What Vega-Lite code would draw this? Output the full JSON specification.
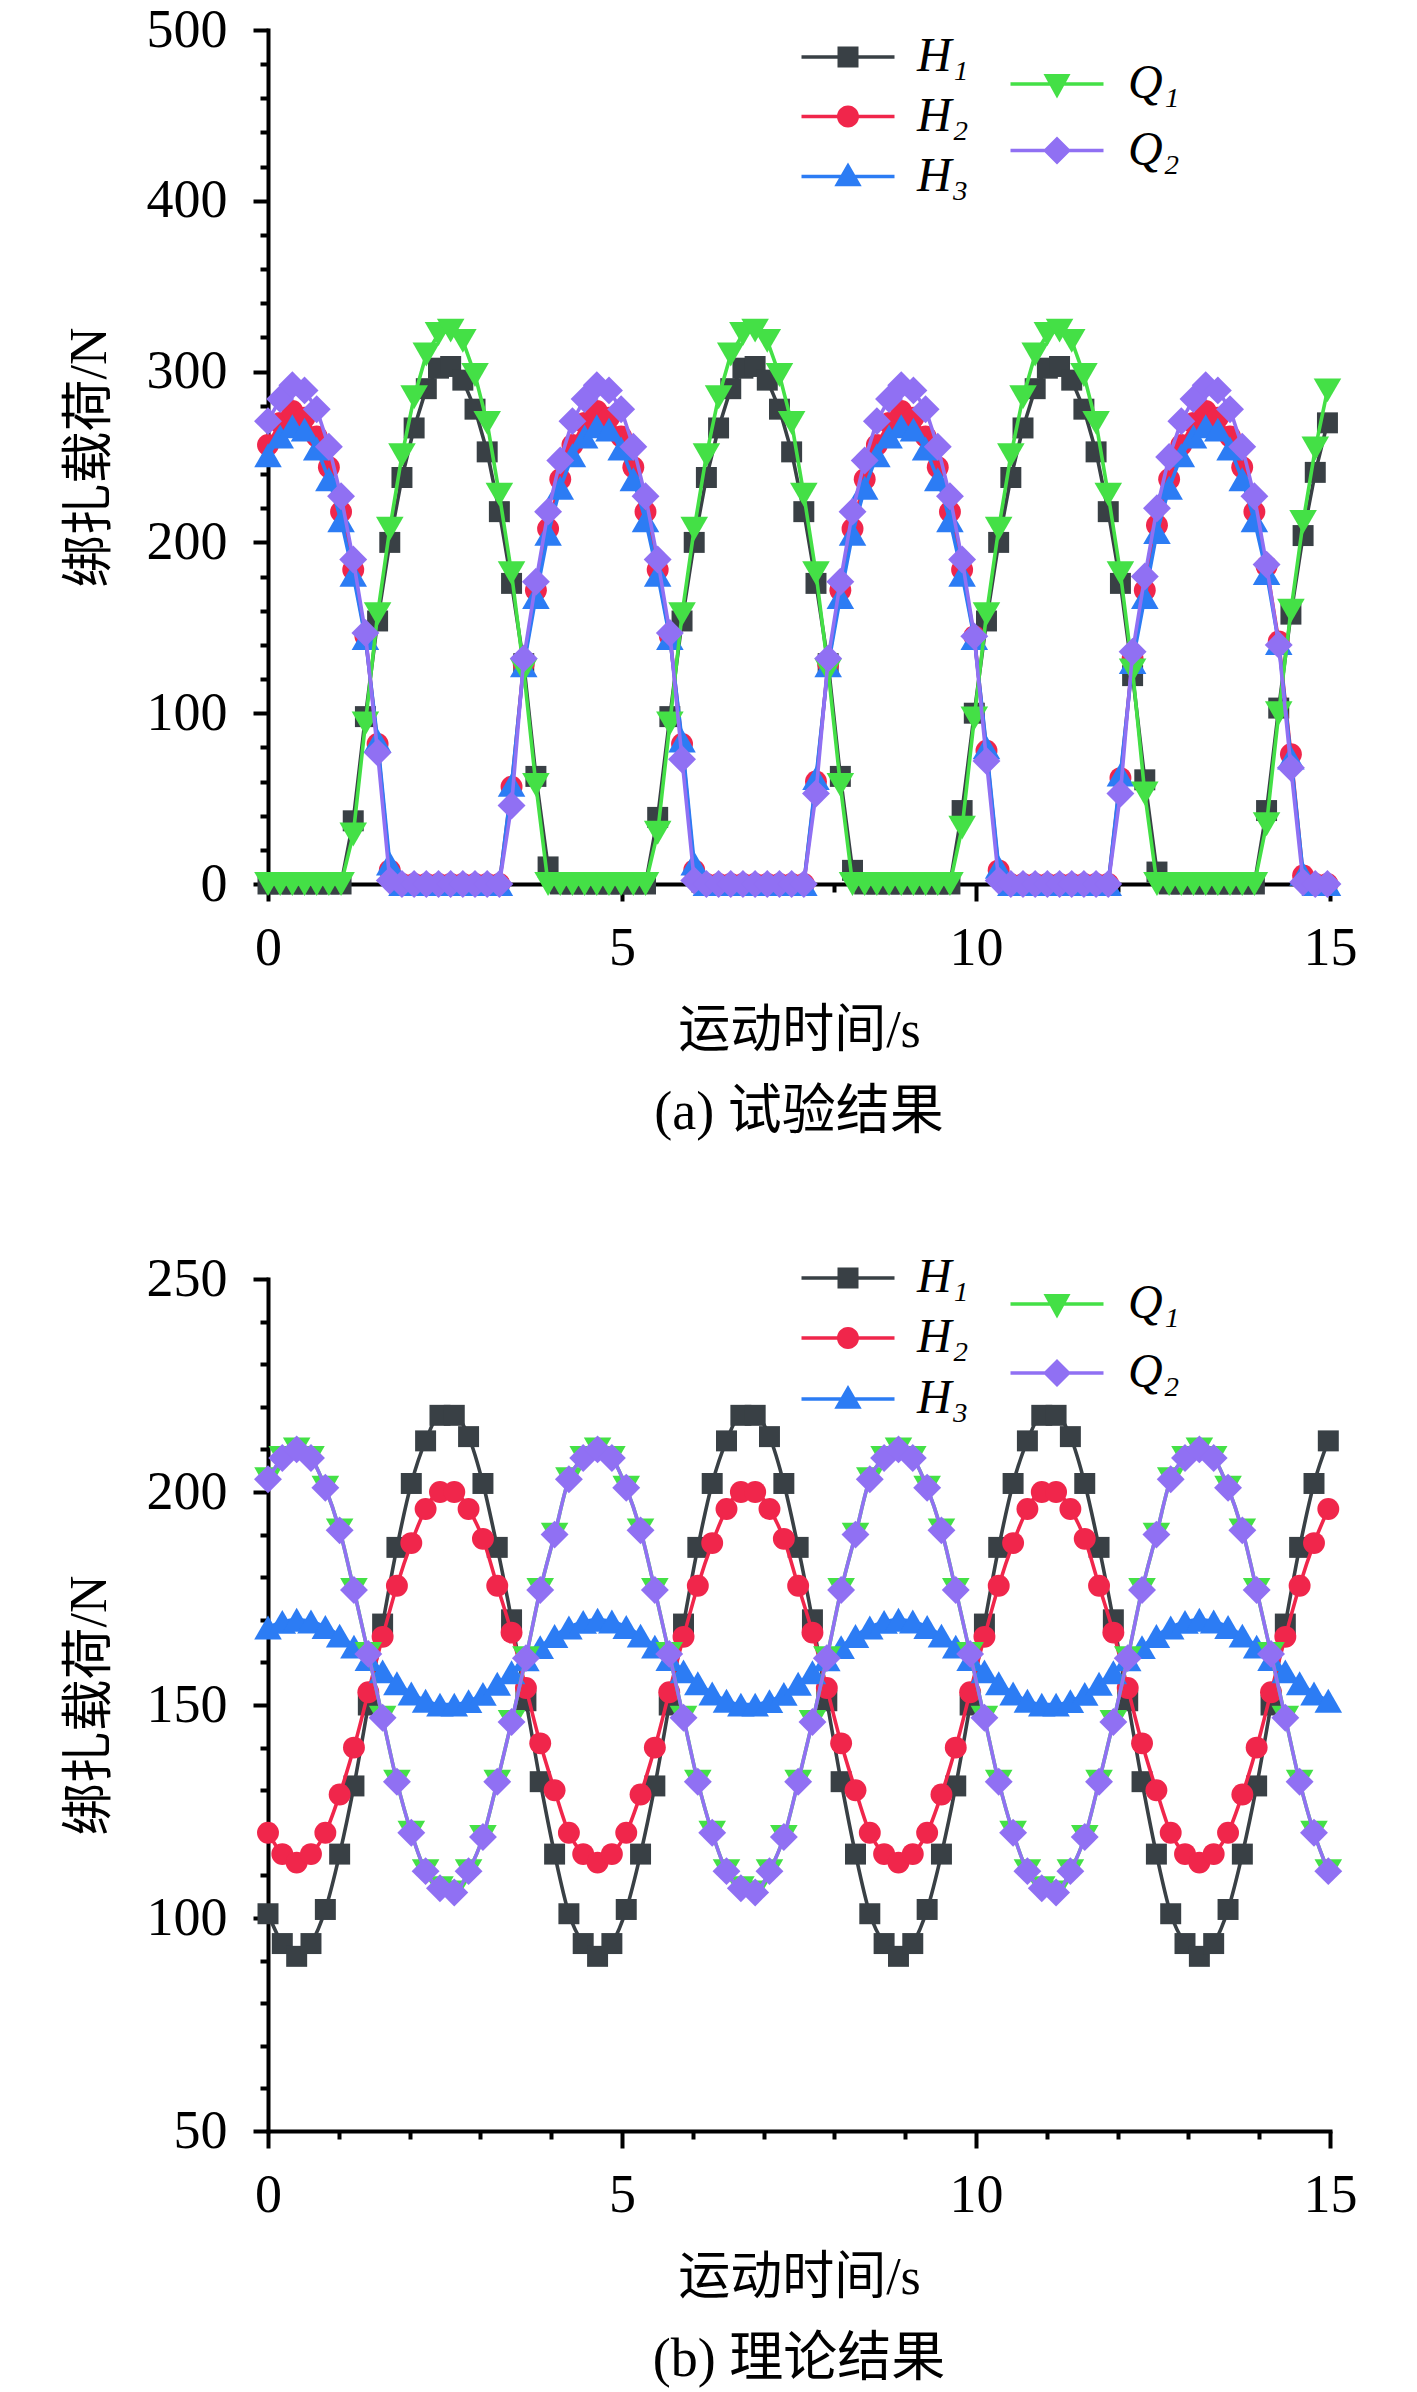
{
  "$schema": "https://vega.github.io/schema/vega-lite/v6.json",
  "padding": {"left": 63, "top": 3, "right": 5, "bottom": 5},
  "spacing": 112,
  "datasets": {
    "a": [
      {"t":0,"H1":0,"H2":257,"H3":251,"Q1":0,"Q2":271},
      {"t":0.172,"H1":0,"H2":270,"H3":262,"Q1":0,"Q2":284},
      {"t":0.344,"H1":0,"H2":277,"H3":268,"Q1":0,"Q2":292},
      {"t":0.516,"H1":0,"H2":273,"H3":266,"Q1":0,"Q2":289},
      {"t":0.688,"H1":0,"H2":262,"H3":255,"Q1":0,"Q2":278},
      {"t":0.86,"H1":0,"H2":244,"H3":237,"Q1":0,"Q2":256},
      {"t":1.032,"H1":0,"H2":218,"H3":213,"Q1":0,"Q2":227},
      {"t":1.204,"H1":37,"H2":184,"H3":181,"Q1":29,"Q2":190},
      {"t":1.376,"H1":98,"H2":145,"H3":144,"Q1":94,"Q2":147},
      {"t":1.548,"H1":154,"H2":82,"H3":84,"Q1":158,"Q2":77},
      {"t":1.72,"H1":200,"H2":8,"H3":12,"Q1":208,"Q2":2},
      {"t":1.892,"H1":238,"H2":0,"H3":0,"Q1":251,"Q2":0},
      {"t":2.064,"H1":267,"H2":0,"H3":0,"Q1":285,"Q2":0},
      {"t":2.236,"H1":290,"H2":0,"H3":0,"Q1":310,"Q2":0},
      {"t":2.408,"H1":302,"H2":0,"H3":0,"Q1":322,"Q2":0},
      {"t":2.58,"H1":303,"H2":0,"H3":0,"Q1":324,"Q2":0},
      {"t":2.752,"H1":295,"H2":0,"H3":0,"Q1":318,"Q2":0},
      {"t":2.924,"H1":278,"H2":0,"H3":0,"Q1":298,"Q2":0},
      {"t":3.096,"H1":253,"H2":0,"H3":0,"Q1":270,"Q2":0},
      {"t":3.268,"H1":218,"H2":0,"H3":0,"Q1":228,"Q2":0},
      {"t":3.44,"H1":176,"H2":57,"H3":58,"Q1":182,"Q2":46},
      {"t":3.612,"H1":129,"H2":129,"H3":128,"Q1":125,"Q2":132},
      {"t":3.784,"H1":63,"H2":172,"H3":168,"Q1":58,"Q2":177},
      {"t":3.956,"H1":10,"H2":208,"H3":205,"Q1":0,"Q2":218},
      {"t":4.128,"H1":0,"H2":237,"H3":232,"Q1":0,"Q2":248},
      {"t":4.3,"H1":0,"H2":257,"H3":251,"Q1":0,"Q2":271},
      {"t":4.472,"H1":0,"H2":270,"H3":262,"Q1":0,"Q2":284},
      {"t":4.644,"H1":0,"H2":277,"H3":268,"Q1":0,"Q2":292},
      {"t":4.816,"H1":0,"H2":273,"H3":266,"Q1":0,"Q2":289},
      {"t":4.988,"H1":0,"H2":262,"H3":255,"Q1":0,"Q2":278},
      {"t":5.16,"H1":0,"H2":244,"H3":237,"Q1":0,"Q2":256},
      {"t":5.332,"H1":0,"H2":218,"H3":213,"Q1":0,"Q2":227},
      {"t":5.504,"H1":39,"H2":184,"H3":181,"Q1":30,"Q2":190},
      {"t":5.676,"H1":98,"H2":145,"H3":144,"Q1":94,"Q2":147},
      {"t":5.848,"H1":154,"H2":82,"H3":84,"Q1":158,"Q2":73},
      {"t":6.02,"H1":200,"H2":8,"H3":12,"Q1":208,"Q2":2},
      {"t":6.192,"H1":238,"H2":0,"H3":0,"Q1":251,"Q2":0},
      {"t":6.364,"H1":267,"H2":0,"H3":0,"Q1":285,"Q2":0},
      {"t":6.536,"H1":290,"H2":0,"H3":0,"Q1":310,"Q2":0},
      {"t":6.708,"H1":302,"H2":0,"H3":0,"Q1":322,"Q2":0},
      {"t":6.88,"H1":303,"H2":0,"H3":0,"Q1":324,"Q2":0},
      {"t":7.052,"H1":295,"H2":0,"H3":0,"Q1":318,"Q2":0},
      {"t":7.224,"H1":278,"H2":0,"H3":0,"Q1":298,"Q2":0},
      {"t":7.396,"H1":253,"H2":0,"H3":0,"Q1":270,"Q2":0},
      {"t":7.568,"H1":218,"H2":0,"H3":0,"Q1":228,"Q2":0},
      {"t":7.74,"H1":176,"H2":60,"H3":62,"Q1":182,"Q2":53},
      {"t":7.912,"H1":129,"H2":129,"H3":128,"Q1":125,"Q2":132},
      {"t":8.084,"H1":63,"H2":172,"H3":168,"Q1":58,"Q2":177},
      {"t":8.256,"H1":8,"H2":208,"H3":205,"Q1":0,"Q2":218},
      {"t":8.428,"H1":0,"H2":237,"H3":232,"Q1":0,"Q2":248},
      {"t":8.6,"H1":0,"H2":257,"H3":251,"Q1":0,"Q2":271},
      {"t":8.772,"H1":0,"H2":270,"H3":262,"Q1":0,"Q2":284},
      {"t":8.944,"H1":0,"H2":277,"H3":268,"Q1":0,"Q2":292},
      {"t":9.116,"H1":0,"H2":273,"H3":266,"Q1":0,"Q2":289},
      {"t":9.288,"H1":0,"H2":262,"H3":255,"Q1":0,"Q2":278},
      {"t":9.46,"H1":0,"H2":244,"H3":237,"Q1":0,"Q2":256},
      {"t":9.632,"H1":0,"H2":218,"H3":213,"Q1":0,"Q2":227},
      {"t":9.804,"H1":43,"H2":184,"H3":181,"Q1":33,"Q2":190},
      {"t":9.976,"H1":100,"H2":145,"H3":144,"Q1":97,"Q2":145},
      {"t":10.148,"H1":154,"H2":78,"H3":80,"Q1":158,"Q2":72},
      {"t":10.32,"H1":200,"H2":8,"H3":10,"Q1":208,"Q2":2},
      {"t":10.492,"H1":238,"H2":0,"H3":0,"Q1":251,"Q2":0},
      {"t":10.664,"H1":267,"H2":0,"H3":0,"Q1":285,"Q2":0},
      {"t":10.836,"H1":290,"H2":0,"H3":0,"Q1":310,"Q2":0},
      {"t":11.008,"H1":302,"H2":0,"H3":0,"Q1":322,"Q2":0},
      {"t":11.18,"H1":303,"H2":0,"H3":0,"Q1":324,"Q2":0},
      {"t":11.352,"H1":295,"H2":0,"H3":0,"Q1":318,"Q2":0},
      {"t":11.524,"H1":278,"H2":0,"H3":0,"Q1":298,"Q2":0},
      {"t":11.696,"H1":253,"H2":0,"H3":0,"Q1":270,"Q2":0},
      {"t":11.868,"H1":218,"H2":0,"H3":0,"Q1":228,"Q2":0},
      {"t":12.04,"H1":176,"H2":62,"H3":64,"Q1":182,"Q2":53},
      {"t":12.212,"H1":122,"H2":132,"H3":130,"Q1":125,"Q2":136},
      {"t":12.384,"H1":61,"H2":172,"H3":168,"Q1":53,"Q2":180},
      {"t":12.556,"H1":7,"H2":210,"H3":206,"Q1":0,"Q2":220},
      {"t":12.728,"H1":0,"H2":237,"H3":232,"Q1":0,"Q2":250},
      {"t":12.9,"H1":0,"H2":257,"H3":251,"Q1":0,"Q2":271},
      {"t":13.072,"H1":0,"H2":270,"H3":262,"Q1":0,"Q2":284},
      {"t":13.244,"H1":0,"H2":277,"H3":268,"Q1":0,"Q2":292},
      {"t":13.416,"H1":0,"H2":273,"H3":266,"Q1":0,"Q2":289},
      {"t":13.588,"H1":0,"H2":262,"H3":255,"Q1":0,"Q2":278},
      {"t":13.76,"H1":0,"H2":244,"H3":237,"Q1":0,"Q2":256},
      {"t":13.932,"H1":0,"H2":218,"H3":213,"Q1":0,"Q2":227},
      {"t":14.104,"H1":43,"H2":186,"H3":182,"Q1":35,"Q2":187},
      {"t":14.276,"H1":103,"H2":142,"H3":141,"Q1":100,"Q2":140},
      {"t":14.448,"H1":158,"H2":76,"H3":74,"Q1":160,"Q2":68},
      {"t":14.62,"H1":204,"H2":5,"H3":6,"Q1":212,"Q2":1},
      {"t":14.792,"H1":241,"H2":0,"H3":0,"Q1":255,"Q2":0},
      {"t":14.964,"H1":270,"H2":0,"H3":0,"Q1":289,"Q2":0}
    ],
    "b": [
      {"t":0,"H1":101,"H2":120,"H3":168.2,"Q1":203,"Q2":203},
      {"t":0.202,"H1":94,"H2":115,"H3":169.5,"Q1":208,"Q2":208},
      {"t":0.405,"H1":91,"H2":113,"H3":170,"Q1":210,"Q2":210},
      {"t":0.607,"H1":94,"H2":115,"H3":169.6,"Q1":208,"Q2":208},
      {"t":0.81,"H1":102,"H2":120,"H3":168.3,"Q1":201,"Q2":201},
      {"t":1.012,"H1":115,"H2":129,"H3":166.3,"Q1":191,"Q2":191},
      {"t":1.214,"H1":131,"H2":140,"H3":163.7,"Q1":177,"Q2":177},
      {"t":1.417,"H1":150,"H2":153,"H3":160.8,"Q1":162,"Q2":162},
      {"t":1.619,"H1":169,"H2":166,"H3":157.9,"Q1":147,"Q2":147},
      {"t":1.821,"H1":187,"H2":178,"H3":155.1,"Q1":132,"Q2":132},
      {"t":2.024,"H1":202,"H2":188,"H3":152.7,"Q1":120,"Q2":120},
      {"t":2.226,"H1":212,"H2":196,"H3":151,"Q1":111,"Q2":111},
      {"t":2.429,"H1":218,"H2":200,"H3":150.1,"Q1":107,"Q2":107},
      {"t":2.631,"H1":218,"H2":200,"H3":150.1,"Q1":106,"Q2":106},
      {"t":2.833,"H1":213,"H2":196,"H3":150.9,"Q1":111,"Q2":111},
      {"t":3.036,"H1":202,"H2":189,"H3":152.6,"Q1":119,"Q2":119},
      {"t":3.238,"H1":187,"H2":178,"H3":155,"Q1":132,"Q2":132},
      {"t":3.44,"H1":170,"H2":167,"H3":157.7,"Q1":146,"Q2":146},
      {"t":3.643,"H1":151,"H2":154,"H3":160.7,"Q1":161,"Q2":161},
      {"t":3.845,"H1":132,"H2":141,"H3":163.6,"Q1":177,"Q2":177},
      {"t":4.048,"H1":115,"H2":130,"H3":166.2,"Q1":190,"Q2":190},
      {"t":4.25,"H1":101,"H2":120,"H3":168.2,"Q1":203,"Q2":203},
      {"t":4.452,"H1":94,"H2":115,"H3":169.5,"Q1":208,"Q2":208},
      {"t":4.655,"H1":91,"H2":113,"H3":170,"Q1":210,"Q2":210},
      {"t":4.857,"H1":94,"H2":115,"H3":169.6,"Q1":208,"Q2":208},
      {"t":5.06,"H1":102,"H2":120,"H3":168.3,"Q1":201,"Q2":201},
      {"t":5.262,"H1":115,"H2":129,"H3":166.3,"Q1":191,"Q2":191},
      {"t":5.464,"H1":131,"H2":140,"H3":163.7,"Q1":177,"Q2":177},
      {"t":5.667,"H1":150,"H2":153,"H3":160.8,"Q1":162,"Q2":162},
      {"t":5.869,"H1":169,"H2":166,"H3":157.9,"Q1":147,"Q2":147},
      {"t":6.071,"H1":187,"H2":178,"H3":155.1,"Q1":132,"Q2":132},
      {"t":6.274,"H1":202,"H2":188,"H3":152.7,"Q1":120,"Q2":120},
      {"t":6.476,"H1":212,"H2":196,"H3":151,"Q1":111,"Q2":111},
      {"t":6.679,"H1":218,"H2":200,"H3":150.1,"Q1":107,"Q2":107},
      {"t":6.881,"H1":218,"H2":200,"H3":150.1,"Q1":106,"Q2":106},
      {"t":7.083,"H1":213,"H2":196,"H3":150.9,"Q1":111,"Q2":111},
      {"t":7.286,"H1":202,"H2":189,"H3":152.6,"Q1":119,"Q2":119},
      {"t":7.488,"H1":187,"H2":178,"H3":155,"Q1":132,"Q2":132},
      {"t":7.69,"H1":170,"H2":167,"H3":157.7,"Q1":146,"Q2":146},
      {"t":7.893,"H1":151,"H2":154,"H3":160.7,"Q1":161,"Q2":161},
      {"t":8.095,"H1":132,"H2":141,"H3":163.6,"Q1":177,"Q2":177},
      {"t":8.298,"H1":115,"H2":130,"H3":166.2,"Q1":190,"Q2":190},
      {"t":8.5,"H1":101,"H2":120,"H3":168.2,"Q1":203,"Q2":203},
      {"t":8.702,"H1":94,"H2":115,"H3":169.5,"Q1":208,"Q2":208},
      {"t":8.905,"H1":91,"H2":113,"H3":170,"Q1":210,"Q2":210},
      {"t":9.107,"H1":94,"H2":115,"H3":169.6,"Q1":208,"Q2":208},
      {"t":9.31,"H1":102,"H2":120,"H3":168.3,"Q1":201,"Q2":201},
      {"t":9.512,"H1":115,"H2":129,"H3":166.3,"Q1":191,"Q2":191},
      {"t":9.714,"H1":131,"H2":140,"H3":163.7,"Q1":177,"Q2":177},
      {"t":9.917,"H1":150,"H2":153,"H3":160.8,"Q1":162,"Q2":162},
      {"t":10.119,"H1":169,"H2":166,"H3":157.9,"Q1":147,"Q2":147},
      {"t":10.321,"H1":187,"H2":178,"H3":155.1,"Q1":132,"Q2":132},
      {"t":10.524,"H1":202,"H2":188,"H3":152.7,"Q1":120,"Q2":120},
      {"t":10.726,"H1":212,"H2":196,"H3":151,"Q1":111,"Q2":111},
      {"t":10.929,"H1":218,"H2":200,"H3":150.1,"Q1":107,"Q2":107},
      {"t":11.131,"H1":218,"H2":200,"H3":150.1,"Q1":106,"Q2":106},
      {"t":11.333,"H1":213,"H2":196,"H3":150.9,"Q1":111,"Q2":111},
      {"t":11.536,"H1":202,"H2":189,"H3":152.6,"Q1":119,"Q2":119},
      {"t":11.738,"H1":187,"H2":178,"H3":155,"Q1":132,"Q2":132},
      {"t":11.94,"H1":170,"H2":167,"H3":157.7,"Q1":146,"Q2":146},
      {"t":12.143,"H1":151,"H2":154,"H3":160.7,"Q1":161,"Q2":161},
      {"t":12.345,"H1":132,"H2":141,"H3":163.6,"Q1":177,"Q2":177},
      {"t":12.548,"H1":115,"H2":130,"H3":166.2,"Q1":190,"Q2":190},
      {"t":12.75,"H1":101,"H2":120,"H3":168.2,"Q1":203,"Q2":203},
      {"t":12.952,"H1":94,"H2":115,"H3":169.5,"Q1":208,"Q2":208},
      {"t":13.155,"H1":91,"H2":113,"H3":170,"Q1":210,"Q2":210},
      {"t":13.357,"H1":94,"H2":115,"H3":169.6,"Q1":208,"Q2":208},
      {"t":13.56,"H1":102,"H2":120,"H3":168.3,"Q1":201,"Q2":201},
      {"t":13.762,"H1":115,"H2":129,"H3":166.3,"Q1":191,"Q2":191},
      {"t":13.964,"H1":131,"H2":140,"H3":163.7,"Q1":177,"Q2":177},
      {"t":14.167,"H1":150,"H2":153,"H3":160.8,"Q1":162,"Q2":162},
      {"t":14.369,"H1":169,"H2":166,"H3":157.9,"Q1":147,"Q2":147},
      {"t":14.571,"H1":187,"H2":178,"H3":155.1,"Q1":132,"Q2":132},
      {"t":14.774,"H1":202,"H2":188,"H3":152.7,"Q1":120,"Q2":120},
      {"t":14.976,"H1":212,"H2":196,"H3":151,"Q1":111,"Q2":111}
    ]
  },
  "vconcat": [
    {
      "width": 1062,
      "height": 854,
      "data": {"name": "a"},
      "title": {"text": "(a) 试验结果", "orient": "bottom", "anchor": "middle", "frame": "group", "offset": 30, "font": "Liberation Serif, Noto Sans CJK SC", "fontSize": 54, "fontWeight": "normal", "color": "black"},
      "layer": [
        {
          "encoding": {
            "x": {"field": "t", "type": "quantitative", "scale": {"domain": [0, 15], "nice": false},
              "axis": {"orient": "bottom", "values": [0, 5, 10, 15], "tickSize": 17, "labelPadding": 20, "title": "运动时间/s", "titlePadding": 30}},
            "y": {"field": "H1", "type": "quantitative", "scale": {"domain": [0, 500], "nice": false},
              "axis": {"orient": "left", "values": [0, 100, 200, 300, 400, 500], "tickSize": 15, "labelPadding": 26, "title": "绑扎载荷/N", "titlePadding": 30}},
            "color": {"datum": "H1", "scale": {"domain": ["H1"], "range": ["#394045"]},
              "legend": {"orient": "none", "legendX": 556, "legendY": 3, "title": null, "padding": 0, "symbolSize": 400, "symbolStrokeWidth": 0, "labelOffset": 45, "labelFont": "Liberation Serif", "labelFontSize": 48, "labelFontStyle": "italic", "labelColor": "black", "labelExpr": "'H₁'",
                "symbolType": "M-4.65,-0.18H4.65V0.18H-4.65ZM-1.05,-1.05H1.05V1.05H-1.05Z"}}
          },
          "layer": [
            {"mark": {"type": "line", "strokeWidth": 3.6}},
            {"mark": {"type": "point", "shape": "square", "size": 440, "filled": true, "opacity": 1}}
          ]
        },
        {
          "encoding": {
            "x": {"field": "t", "type": "quantitative", "scale": {"domain": [0, 15], "nice": false},
              "axis": {"orient": "bottom", "values": [1, 2, 3, 4, 6, 7, 8, 9, 11, 12, 13, 14], "tickSize": 8, "labels": false, "domain": false, "title": null}},
            "y": {"field": "H2", "type": "quantitative", "scale": {"domain": [0, 500], "nice": false},
              "axis": {"orient": "left", "values": [20, 40, 60, 80, 120, 140, 160, 180, 220, 240, 260, 280, 320, 340, 360, 380, 420, 440, 460, 480], "tickSize": 8, "labels": false, "domain": false, "title": null}},
            "color": {"datum": "H2", "scale": {"domain": ["H2"], "range": ["#f0264b"]},
              "legend": {"orient": "none", "legendX": 556, "legendY": 62.5, "title": null, "padding": 0, "symbolSize": 400, "symbolStrokeWidth": 0, "labelOffset": 45, "labelFont": "Liberation Serif", "labelFontSize": 48, "labelFontStyle": "italic", "labelColor": "black", "labelExpr": "'H₂'",
                "symbolType": "M-4.65,-0.18H4.65V0.18H-4.65ZM1.1,0A1.1,1.1,0,1,1,-1.1,0A1.1,1.1,0,1,1,1.1,0Z"}}
          },
          "layer": [
            {"mark": {"type": "line", "strokeWidth": 3.6}},
            {"mark": {"type": "point", "shape": "circle", "size": 480, "filled": true, "opacity": 1}}
          ]
        },
        {
          "encoding": {
            "x": {"field": "t", "type": "quantitative", "scale": {"domain": [0, 15], "nice": false}, "axis": null},
            "y": {"field": "H3", "type": "quantitative", "scale": {"domain": [0, 500], "nice": false}, "axis": null},
            "color": {"datum": "H3", "scale": {"domain": ["H3"], "range": ["#2c7cf4"]},
              "legend": {"orient": "none", "legendX": 556, "legendY": 122.5, "title": null, "padding": 0, "symbolSize": 400, "symbolStrokeWidth": 0, "labelOffset": 45, "labelFont": "Liberation Serif", "labelFontSize": 48, "labelFontStyle": "italic", "labelColor": "black", "labelExpr": "'H₃'",
                "symbolType": "M-4.65,-0.18H4.65V0.18H-4.65ZM0,-1.4L1.37,0.97L-1.37,0.97Z"}}
          },
          "layer": [
            {"mark": {"type": "line", "strokeWidth": 3.6}},
            {"mark": {"type": "point", "shape": "triangle-up", "size": 760, "filled": true, "opacity": 1}}
          ]
        },
        {
          "encoding": {
            "x": {"field": "t", "type": "quantitative", "scale": {"domain": [0, 15], "nice": false}, "axis": null},
            "y": {"field": "Q1", "type": "quantitative", "scale": {"domain": [0, 500], "nice": false}, "axis": null},
            "color": {"datum": "Q1", "scale": {"domain": ["Q1"], "range": ["#44e046"]},
              "legend": {"orient": "none", "legendX": 765, "legendY": 30, "title": null, "padding": 0, "symbolSize": 400, "symbolStrokeWidth": 0, "labelOffset": 47, "labelFont": "Liberation Serif", "labelFontSize": 48, "labelFontStyle": "italic", "labelColor": "black", "labelExpr": "'Q₁'",
                "symbolType": "M-4.65,-0.18H4.65V0.18H-4.65ZM-1.35,-1L1.35,-1L0,1.45Z"}}
          },
          "layer": [
            {"mark": {"type": "line", "strokeWidth": 3.6}},
            {"mark": {"type": "point", "shape": "triangle-down", "size": 760, "filled": true, "opacity": 1}}
          ]
        },
        {
          "encoding": {
            "x": {"field": "t", "type": "quantitative", "scale": {"domain": [0, 15], "nice": false}, "axis": null},
            "y": {"field": "Q2", "type": "quantitative", "scale": {"domain": [0, 500], "nice": false}, "axis": null},
            "color": {"datum": "Q2", "scale": {"domain": ["Q2"], "range": ["#9070f3"]},
              "legend": {"orient": "none", "legendX": 765, "legendY": 96.5, "title": null, "padding": 0, "symbolSize": 400, "symbolStrokeWidth": 0, "labelOffset": 47, "labelFont": "Liberation Serif", "labelFontSize": 48, "labelFontStyle": "italic", "labelColor": "black", "labelExpr": "'Q₂'",
                "symbolType": "M-4.65,-0.18H4.65V0.18H-4.65ZM0,-1.4L1.4,0L0,1.4L-1.4,0Z"}}
          },
          "layer": [
            {"mark": {"type": "line", "strokeWidth": 3.6}},
            {"mark": {"type": "point", "shape": "diamond", "size": 780, "filled": true, "opacity": 1}}
          ]
        }
      ],
      "resolve": {"scale": {"color": "independent"}, "legend": {"color": "independent"}, "axis": {"x": "independent", "y": "independent"}}
    },
    {
      "width": 1062,
      "height": 852,
      "data": {"name": "b"},
      "title": {"text": "(b) 理论结果", "orient": "bottom", "anchor": "middle", "frame": "group", "offset": 30, "font": "Liberation Serif, Noto Sans CJK SC", "fontSize": 54, "fontWeight": "normal", "color": "black"},
      "layer": [
        {
          "encoding": {
            "x": {"field": "t", "type": "quantitative", "scale": {"domain": [0, 15], "nice": false},
              "axis": {"orient": "bottom", "values": [0, 5, 10, 15], "tickSize": 17, "labelPadding": 20, "title": "运动时间/s", "titlePadding": 30}},
            "y": {"field": "H1", "type": "quantitative", "scale": {"domain": [50, 250], "nice": false},
              "axis": {"orient": "left", "values": [50, 100, 150, 200, 250], "tickSize": 15, "labelPadding": 26, "title": "绑扎载荷/N", "titlePadding": 30}},
            "color": {"datum": "H1", "scale": {"domain": ["H1"], "range": ["#394045"]},
              "legend": {"orient": "none", "legendX": 556, "legendY": -25, "title": null, "padding": 0, "symbolSize": 400, "symbolStrokeWidth": 0, "labelOffset": 45, "labelFont": "Liberation Serif", "labelFontSize": 48, "labelFontStyle": "italic", "labelColor": "black", "labelExpr": "'H₁'",
                "symbolType": "M-4.65,-0.18H4.65V0.18H-4.65ZM-1.05,-1.05H1.05V1.05H-1.05Z"}}
          },
          "layer": [
            {"mark": {"type": "line", "strokeWidth": 3.6, "interpolate": "monotone"}},
            {"mark": {"type": "point", "shape": "square", "size": 440, "filled": true, "opacity": 1}}
          ]
        },
        {
          "encoding": {
            "x": {"field": "t", "type": "quantitative", "scale": {"domain": [0, 15], "nice": false},
              "axis": {"orient": "bottom", "values": [1, 2, 3, 4, 6, 7, 8, 9, 11, 12, 13, 14], "tickSize": 8, "labels": false, "domain": false, "title": null}},
            "y": {"field": "H2", "type": "quantitative", "scale": {"domain": [50, 250], "nice": false},
              "axis": {"orient": "left", "values": [60, 70, 80, 90, 110, 120, 130, 140, 160, 170, 180, 190, 210, 220, 230, 240], "tickSize": 8, "labels": false, "domain": false, "title": null}},
            "color": {"datum": "H2", "scale": {"domain": ["H2"], "range": ["#f0264b"]},
              "legend": {"orient": "none", "legendX": 556, "legendY": 35, "title": null, "padding": 0, "symbolSize": 400, "symbolStrokeWidth": 0, "labelOffset": 45, "labelFont": "Liberation Serif", "labelFontSize": 48, "labelFontStyle": "italic", "labelColor": "black", "labelExpr": "'H₂'",
                "symbolType": "M-4.65,-0.18H4.65V0.18H-4.65ZM1.1,0A1.1,1.1,0,1,1,-1.1,0A1.1,1.1,0,1,1,1.1,0Z"}}
          },
          "layer": [
            {"mark": {"type": "line", "strokeWidth": 3.6, "interpolate": "monotone"}},
            {"mark": {"type": "point", "shape": "circle", "size": 480, "filled": true, "opacity": 1}}
          ]
        },
        {
          "encoding": {
            "x": {"field": "t", "type": "quantitative", "scale": {"domain": [0, 15], "nice": false}, "axis": null},
            "y": {"field": "H3", "type": "quantitative", "scale": {"domain": [50, 250], "nice": false}, "axis": null},
            "color": {"datum": "H3", "scale": {"domain": ["H3"], "range": ["#2c7cf4"]},
              "legend": {"orient": "none", "legendX": 556, "legendY": 96, "title": null, "padding": 0, "symbolSize": 400, "symbolStrokeWidth": 0, "labelOffset": 45, "labelFont": "Liberation Serif", "labelFontSize": 48, "labelFontStyle": "italic", "labelColor": "black", "labelExpr": "'H₃'",
                "symbolType": "M-4.65,-0.18H4.65V0.18H-4.65ZM0,-1.4L1.37,0.97L-1.37,0.97Z"}}
          },
          "layer": [
            {"mark": {"type": "line", "strokeWidth": 3.6, "interpolate": "monotone"}},
            {"mark": {"type": "point", "shape": "triangle-up", "size": 760, "filled": true, "opacity": 1}}
          ]
        },
        {
          "encoding": {
            "x": {"field": "t", "type": "quantitative", "scale": {"domain": [0, 15], "nice": false}, "axis": null},
            "y": {"field": "Q1", "type": "quantitative", "scale": {"domain": [50, 250], "nice": false}, "axis": null},
            "color": {"datum": "Q1", "scale": {"domain": ["Q1"], "range": ["#44e046"]},
              "legend": {"orient": "none", "legendX": 765, "legendY": 1, "title": null, "padding": 0, "symbolSize": 400, "symbolStrokeWidth": 0, "labelOffset": 47, "labelFont": "Liberation Serif", "labelFontSize": 48, "labelFontStyle": "italic", "labelColor": "black", "labelExpr": "'Q₁'",
                "symbolType": "M-4.65,-0.18H4.65V0.18H-4.65ZM-1.35,-1L1.35,-1L0,1.45Z"}}
          },
          "layer": [
            {"mark": {"type": "line", "strokeWidth": 3.6, "interpolate": "monotone"}},
            {"mark": {"type": "point", "shape": "triangle-down", "size": 760, "filled": true, "opacity": 1}}
          ]
        },
        {
          "encoding": {
            "x": {"field": "t", "type": "quantitative", "scale": {"domain": [0, 15], "nice": false}, "axis": null},
            "y": {"field": "Q2", "type": "quantitative", "scale": {"domain": [50, 250], "nice": false}, "axis": null},
            "color": {"datum": "Q2", "scale": {"domain": ["Q2"], "range": ["#9070f3"]},
              "legend": {"orient": "none", "legendX": 765, "legendY": 70, "title": null, "padding": 0, "symbolSize": 400, "symbolStrokeWidth": 0, "labelOffset": 47, "labelFont": "Liberation Serif", "labelFontSize": 48, "labelFontStyle": "italic", "labelColor": "black", "labelExpr": "'Q₂'",
                "symbolType": "M-4.65,-0.18H4.65V0.18H-4.65ZM0,-1.4L1.4,0L0,1.4L-1.4,0Z"}}
          },
          "layer": [
            {"mark": {"type": "line", "strokeWidth": 3.6, "interpolate": "monotone"}},
            {"mark": {"type": "point", "shape": "diamond", "size": 780, "filled": true, "opacity": 1}}
          ]
        }
      ],
      "resolve": {"scale": {"color": "independent"}, "legend": {"color": "independent"}, "axis": {"x": "independent", "y": "independent"}}
    }
  ],
  "config": {
    "view": {"stroke": null},
    "axis": {
      "grid": false,
      "domainColor": "black", "domainWidth": 4, "domainCap": "square",
      "tickColor": "black", "tickWidth": 4,
      "labelFont": "Liberation Serif", "labelFontSize": 54, "labelColor": "black",
      "labelFlush": false, "labelOverlap": false,
      "titleFont": "Liberation Serif, Noto Sans CJK SC", "titleFontSize": 52, "titleFontWeight": "normal", "titleColor": "black"
    }
  }
}
